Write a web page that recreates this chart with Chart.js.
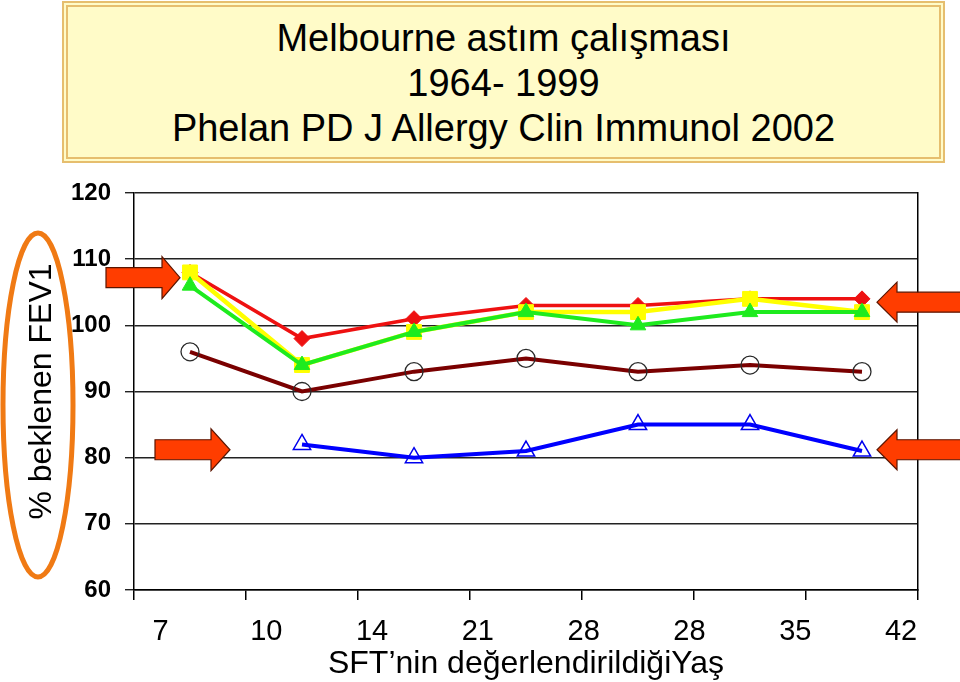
<!DOCTYPE html>
<html>
<head>
<meta charset="utf-8">
<script src="https://cdn.jsdelivr.net/npm/chart.js@4.4.0/dist/chart.umd.min.js"></script>
<style>
  body { margin: 0; background: #fff; }
  #wrap { position: relative; width: 960px; height: 682px; }
  #titleBox {
    position: absolute; left: 62px; top: 1px; width: 883px; height: 162px;
    box-sizing: border-box; background: #FFFBC8;
    border: 6px double #E6BE6E;
    font-family: Arial, "Liberation Sans", sans-serif; font-size: 38px;
    line-height: 45px; text-align: center; color: #000; padding-top: 9px;
  }
</style>
</head>
<body>
<div id="wrap">
  <canvas id="fev1Chart" width="960" height="682"></canvas>
  <div id="titleBox">Melbourne astım çalışması<br>1964- 1999<br>Phelan PD J Allergy Clin Immunol 2002</div>
</div>
<script>
// data
const visits = ["1", "2", "3", "4", "5", "6", "7"];
const ageLabels = ["7", "10", "14", "21", "28", "28", "35", "42"];
const redSeries = [108, 98, 101, 103, 103, 104, 104];
const yellowSeries = [108, 94, 99, 102, 102, 104, 102];
const greenSeries = [106, 94, 99, 102, 100, 102, 102];
const brownSeries = [96, 90, 93, 95, 93, 94, 93];
const blueSeries = [null, 82, 80, 81, 85, 85, 81];

const FONT = 'Arial, "Liberation Sans", sans-serif';
Chart.defaults.font.family = FONT;
Chart.defaults.color = "#000";

// arrows + ellipse
function arrow(ctx, tipX, tipY, dir, len, shaftH, headH, headLen) {
  const baseX = tipX - dir * len;
  const neckX = tipX - dir * headLen;
  ctx.beginPath();
  ctx.moveTo(baseX, tipY - shaftH / 2);
  ctx.lineTo(neckX, tipY - shaftH / 2);
  ctx.lineTo(neckX, tipY - headH / 2);
  ctx.lineTo(tipX, tipY);
  ctx.lineTo(neckX, tipY + headH / 2);
  ctx.lineTo(neckX, tipY + shaftH / 2);
  ctx.lineTo(baseX, tipY + shaftH / 2);
  ctx.closePath();
  ctx.fillStyle = "#FF3D00";
  ctx.fill();
  ctx.strokeStyle = "#5A1500";
  ctx.lineWidth = 1.2;
  ctx.stroke();
}

const decor = {
  id: "decor",
  beforeDatasetsDraw(chart) {
    const {ctx, chartArea: a, scales: {y}} = chart;
    ctx.save();
    arrow(ctx, a.left + 46, y.getPixelForValue(107.2), 1, 74, 20, 42, 18);
    arrow(ctx, a.left + 96, y.getPixelForValue(81.2), 1, 75, 20, 42, 19);
    arrow(ctx, a.right - 41, y.getPixelForValue(103.5), -1, 90, 20, 40, 20);
    arrow(ctx, a.right - 41, y.getPixelForValue(81.2), -1, 90, 20, 40, 20);
    ctx.restore();
  },
  afterDraw(chart) {
    const ctx = chart.ctx;
    ctx.save();
    ctx.beginPath();
    ctx.ellipse(38, 405, 35, 172, 0, 0, Math.PI * 2);
    ctx.strokeStyle = "#F07A14";
    ctx.lineWidth = 5;
    ctx.stroke();
    ctx.restore();
  }
};

new Chart(document.getElementById("fev1Chart"), {
  type: "line",
  data: {
    labels: visits,
    datasets: [
      {
        data: greenSeries, borderColor: "#1EEB1E", borderWidth: 4,
        pointStyle: "triangle", pointRadius: 9, pointBackgroundColor: "#1EEB1E",
        pointBorderColor: "#1EEB1E", pointBorderWidth: 1
      },
      {
        data: yellowSeries, borderColor: "#FFFF00", borderWidth: 4.5,
        pointStyle: "rect", pointRadius: 10.5, pointBackgroundColor: "#FFFF00",
        pointBorderColor: "#FFFF00", pointBorderWidth: 1
      },
      {
        data: redSeries, borderColor: "#EE1111", borderWidth: 3.5,
        pointStyle: "rectRot", pointRadius: 8, pointBackgroundColor: "#EE1111",
        pointBorderColor: "#EE1111", pointBorderWidth: 1
      },
      {
        data: brownSeries, borderColor: "#7A0000", borderWidth: 4,
        pointStyle: "circle", pointRadius: 9, pointBackgroundColor: "rgba(0,0,0,0)",
        pointBorderColor: "#2A2A2A", pointBorderWidth: 1.3
      },
      {
        data: blueSeries, borderColor: "#0000FF", borderWidth: 4,
        pointStyle: "triangle", pointRadius: 10, pointBackgroundColor: "rgba(0,0,0,0)",
        pointBorderColor: "#0000EE", pointBorderWidth: 1.5
      }
    ]
  },
  options: {
    responsive: false,
    animation: false,
    layout: {padding: {left: 0, right: 42, top: 193, bottom: 0}},
    elements: {line: {tension: 0}},
    plugins: {legend: {display: false}, tooltip: {enabled: false}},
    scales: {
      x: {
        type: "category", weight: 0, offset: true,
        ticks: {display: false},
        grid: {offset: true, drawOnChartArea: false, tickLength: 10, color: "#000", lineWidth: 1.5},
        border: {color: "#000", width: 1.5},
        afterFit(s) { s.height = 10; }
      },
      x2: {
        type: "linear", position: "bottom", weight: 1, min: -0.25, max: 7.16,
        afterBuildTicks(s) { s.ticks = ageLabels.map((_, i) => ({value: i})); },
        ticks: {
          callback: (v) => ageLabels[v], font: {size: 29}, padding: 7,
          autoSkip: false, maxRotation: 0
        },
        grid: {display: false},
        border: {display: false},
        title: {
          display: true, text: "SFT’nin değerlendirildiğiYaş",
          font: {size: 32, lineHeight: 1}, padding: {top: 0, bottom: 2}
        },
        afterFit(s) { s.height = 82; }
      },
      y: {
        min: 60, max: 120,
        ticks: {stepSize: 10, font: {size: 24, weight: "bold"}, padding: 14},
        grid: {color: "#222", lineWidth: 1.4, tickLength: 9},
        border: {color: "#000", width: 1.5},
        title: {
          display: true, text: "% beklenen FEV1",
          font: {size: 32, lineHeight: 1}, padding: {top: 26, bottom: 0}
        },
        afterFit(s) { s.width = 134; }
      },
      y2: {
        position: "right", min: 60, max: 120,
        ticks: {display: false},
        grid: {display: false},
        border: {color: "#000", width: 1.5},
        afterFit(s) { s.width = 0; }
      }
    }
  },
  plugins: [decor]
});
</script>
</body>
</html>
